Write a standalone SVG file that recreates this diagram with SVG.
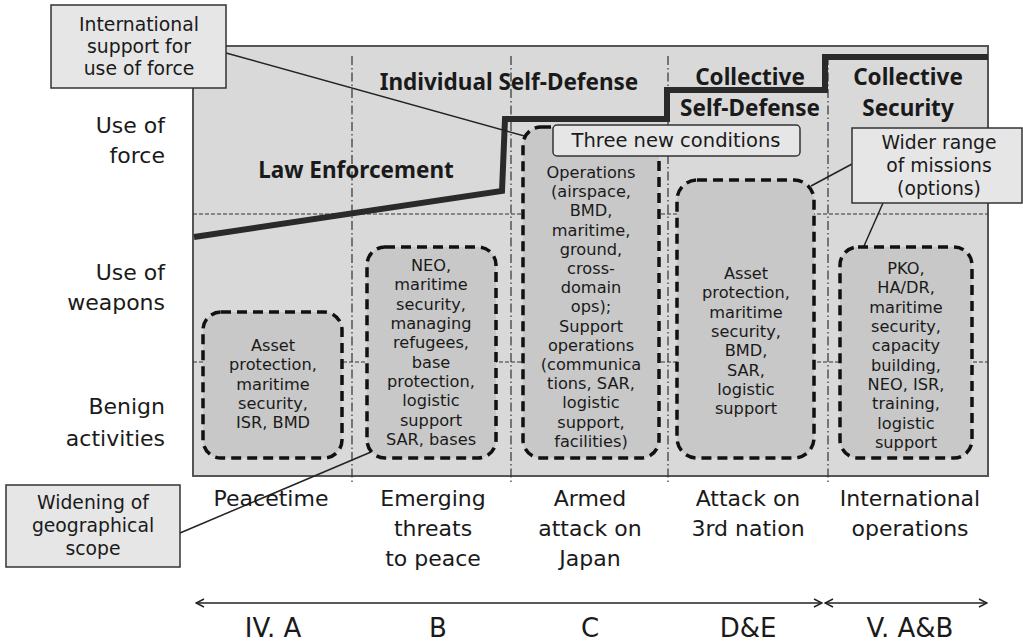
<svg xmlns="http://www.w3.org/2000/svg" width="1023" height="644" viewBox="0 0 1023 644">
<defs>
<style>
text{font-family:"DejaVu Sans","Noto Sans",sans-serif;fill:#1a1a1a;text-anchor:middle}
.row{font-size:22px;text-anchor:end}
.col{font-size:22px}
.sec{font-size:26px}
.bold{font-family:"Noto Sans","DejaVu Sans",sans-serif;font-size:22.5px;font-weight:bold}
.box{font-size:16.2px}
.call{font-size:18.8px}
.dbox{fill:#c8c8c8;stroke:#111;stroke-width:3.5;stroke-dasharray:10 6}
.cbox{fill:#e6e6e6;stroke:#333;stroke-width:1.5}
.vline{stroke:#333;stroke-width:1.2;stroke-dasharray:9 3 1.5 3;fill:none}
.hline{stroke:#333;stroke-width:1;stroke-dasharray:4 2;fill:none}
.conn{stroke:#222;stroke-width:1.5;fill:none}
</style>
<marker id="ah" viewBox="0 0 10 10" refX="9" refY="5" markerWidth="10" markerHeight="10" markerUnits="userSpaceOnUse" orient="auto-start-reverse">
<path d="M1,1 L9,5 L1,9" fill="none" stroke="#222" stroke-width="1.5"/>
</marker>
</defs>
<rect width="1023" height="644" fill="#ffffff"/>

<g id="panel">
<rect x="193" y="46" width="795" height="430" fill="#d9d9d9" stroke="#555" stroke-width="2"/>
<line class="hline" x1="193" y1="214" x2="988" y2="214"/>
<line class="hline" x1="193" y1="362" x2="988" y2="362"/>
<line class="vline" x1="352" y1="56" x2="352" y2="482"/>
<line class="vline" x1="511" y1="56" x2="511" y2="482"/>
<line class="vline" x1="668" y1="56" x2="668" y2="482"/>
<line class="vline" x1="828" y1="56" x2="828" y2="482"/>
</g>

<g id="rowlabels">
<text class="row" x="165" y="133">Use of</text>
<text class="row" x="165" y="163">force</text>
<text class="row" x="165" y="280">Use of</text>
<text class="row" x="165" y="310">weapons</text>
<text class="row" x="165" y="414">Benign</text>
<text class="row" x="165" y="446">activities</text>
</g>

<g id="threshold">
<polyline points="194,237 502,191 505,119 667,119 667,90 825,90 825,57 988,57" fill="none" stroke="#2a2a2a" stroke-width="6" stroke-linejoin="miter"/>
</g>

<g id="regimes">
<text class="bold" x="356" y="178">Law Enforcement</text>
<text class="bold" x="509" y="90">Individual Self-Defense</text>
<text class="bold" x="750" y="85">Collective</text>
<text class="bold" x="750" y="116">Self-Defense</text>
<text class="bold" x="908" y="85">Collective</text>
<text class="bold" x="908" y="116">Security</text>
</g>

<g id="connectors">
<line class="conn" x1="226" y1="53" x2="528" y2="137"/>
<line class="conn" x1="852" y1="164" x2="811" y2="186"/>
<line class="conn" x1="883" y1="203" x2="864" y2="246"/>
<line class="conn" x1="180" y1="533" x2="371" y2="452"/>
</g>

<g id="box-peacetime">
<rect class="dbox" x="203" y="312" width="139" height="146" rx="18"/>
<text class="box" x="273" y="351">Asset</text>
<text class="box" x="273" y="370.35">protection,</text>
<text class="box" x="273" y="389.7">maritime</text>
<text class="box" x="273" y="409.05">security,</text>
<text class="box" x="273" y="428.4">ISR, BMD</text>
</g>

<g id="box-emerging">
<rect class="dbox" x="367" y="247" width="129" height="211" rx="18"/>
<text class="box" x="431" y="271">NEO,</text>
<text class="box" x="431" y="290.35">maritime</text>
<text class="box" x="431" y="309.7">security,</text>
<text class="box" x="431" y="329.05">managing</text>
<text class="box" x="431" y="348.4">refugees,</text>
<text class="box" x="431" y="367.75">base</text>
<text class="box" x="431" y="387.1">protection,</text>
<text class="box" x="431" y="406.45">logistic</text>
<text class="box" x="431" y="425.8">support</text>
<text class="box" x="431" y="445.15">SAR, bases</text>
</g>

<g id="box-armed">
<rect class="dbox" x="523" y="127" width="136" height="331" rx="18"/>
<text class="box" x="591" y="178">Operations</text>
<text class="box" x="591" y="197.2">(airspace,</text>
<text class="box" x="591" y="216.4">BMD,</text>
<text class="box" x="591" y="235.6">maritime,</text>
<text class="box" x="591" y="254.8">ground,</text>
<text class="box" x="591" y="274">cross-</text>
<text class="box" x="591" y="293.2">domain</text>
<text class="box" x="591" y="312.4">ops);</text>
<text class="box" x="591" y="331.6">Support</text>
<text class="box" x="591" y="350.8">operations</text>
<text class="box" x="591" y="370">(communica</text>
<text class="box" x="591" y="389.2">tions, SAR,</text>
<text class="box" x="591" y="408.4">logistic</text>
<text class="box" x="591" y="427.6">support,</text>
<text class="box" x="591" y="446.8">facilities)</text>
</g>

<g id="box-third">
<rect class="dbox" x="677" y="180" width="137" height="278" rx="20"/>
<text class="box" x="746" y="279">Asset</text>
<text class="box" x="746" y="298.35">protection,</text>
<text class="box" x="746" y="317.7">maritime</text>
<text class="box" x="746" y="337.05">security,</text>
<text class="box" x="746" y="356.4">BMD,</text>
<text class="box" x="746" y="375.75">SAR,</text>
<text class="box" x="746" y="395.1">logistic</text>
<text class="box" x="746" y="414.45">support</text>
</g>

<g id="box-intl">
<rect class="dbox" x="840" y="247" width="132" height="211" rx="18"/>
<text class="box" x="906" y="274">PKO,</text>
<text class="box" x="906" y="293.35">HA/DR,</text>
<text class="box" x="906" y="312.7">maritime</text>
<text class="box" x="906" y="332.05">security,</text>
<text class="box" x="906" y="351.4">capacity</text>
<text class="box" x="906" y="370.75">building,</text>
<text class="box" x="906" y="390.1">NEO, ISR,</text>
<text class="box" x="906" y="409.45">training,</text>
<text class="box" x="906" y="428.8">logistic</text>
<text class="box" x="906" y="448.15">support</text>
</g>

<g id="callout-support">
<rect class="cbox" x="51" y="5" width="175" height="83"/>
<text class="call" x="139" y="31">International</text>
<text class="call" x="139" y="53">support for</text>
<text class="call" x="139" y="75">use of force</text>
</g>

<g id="callout-conditions">
<rect class="cbox" x="553" y="125" width="247" height="31" rx="4"/>
<text class="call" x="676" y="147" style="font-size:19.5px">Three new conditions</text>
</g>

<g id="callout-missions">
<rect class="cbox" x="852" y="128" width="170" height="75"/>
<text class="call" x="939" y="149">Wider range</text>
<text class="call" x="939" y="172">of missions</text>
<text class="call" x="939" y="195">(options)</text>
</g>

<g id="callout-geo">
<rect class="cbox" x="6" y="485" width="174" height="82"/>
<text class="call" x="93" y="509">Widening of</text>
<text class="call" x="93" y="532">geographical</text>
<text class="call" x="93" y="555">scope</text>
</g>

<g id="columnlabels">
<text class="col" x="271" y="506">Peacetime</text>
<text class="col" x="433" y="506">Emerging</text>
<text class="col" x="433" y="536">threats</text>
<text class="col" x="433" y="566">to peace</text>
<text class="col" x="590" y="506">Armed</text>
<text class="col" x="590" y="536">attack on</text>
<text class="col" x="590" y="566">Japan</text>
<text class="col" x="748" y="506">Attack on</text>
<text class="col" x="748" y="536">3rd nation</text>
<text class="col" x="910" y="506">International</text>
<text class="col" x="910" y="536">operations</text>
</g>

<g id="arrows">
<line x1="196" y1="603" x2="822" y2="603" stroke="#222" stroke-width="1.5" marker-start="url(#ah)" marker-end="url(#ah)"/>
<line x1="825" y1="603" x2="987" y2="603" stroke="#222" stroke-width="1.5" marker-start="url(#ah)" marker-end="url(#ah)"/>
</g>

<g id="sections">
<text class="sec" x="273" y="637">IV. A</text>
<text class="sec" x="438" y="637">B</text>
<text class="sec" x="590" y="637">C</text>
<text class="sec" x="748" y="637">D&amp;E</text>
<text class="sec" x="910" y="637">V. A&amp;B</text>
</g>
</svg>
